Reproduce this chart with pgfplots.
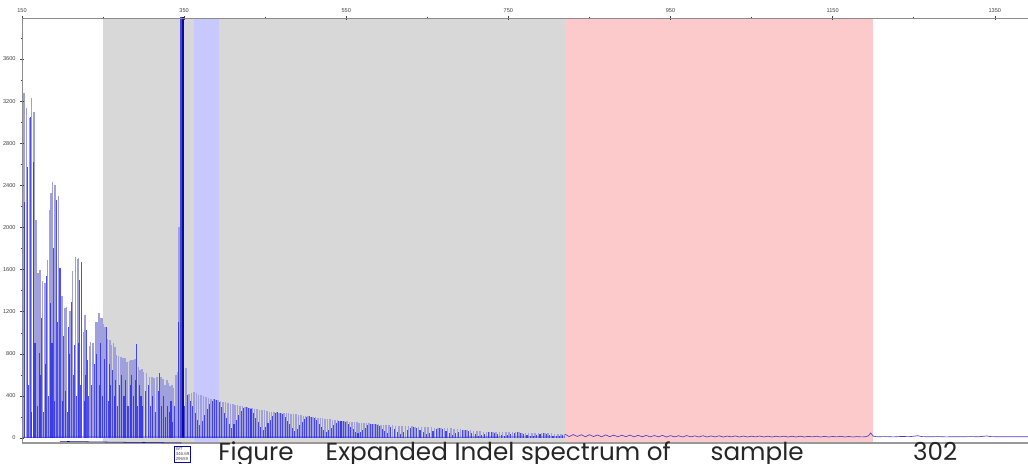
\documentclass[border=0pt]{standalone}
\usepackage{pgfplots}
\pgfplotsset{compat=1.18}
\usepackage{pgfplotstable}
\usepackage{fontspec}
\setmainfont{Liberation Sans}
\newfontfamily\capfont{Poppins}
\definecolor{graybg}{RGB}{216,216,216}
\definecolor{bluebg}{RGB}{200,200,255}
\definecolor{pinkbg}{RGB}{252,202,203}
\definecolor{lav}{RGB}{160,160,220}
\definecolor{trace}{RGB}{35,35,235}
\definecolor{navy}{RGB}{10,10,160}

% light (lavender) peaks
\pgfplotstableread{
x y
152.5 3280
155.8 3135
159.0 3040
162.0 3230
164.8 3097
167.3 2071
170.0 1567
172.2 1596
175.6 1494
178.4 1472
181.7 1691
183.7 2166
185.8 2327
187.9 2435
190.7 2403
194.8 2302
199.4 1352
203.0 1235
205.2 1248
209.3 1210
212.6 1589
215.8 1716
218.3 1700
220.0 1710
225.7 1004
227.8 1168
233.1 877
234.8 909
237.3 905
241.4 1105
243.0 1105
244.7 1185
246.3 1143
248.4 1137
250.4 1080
252.5 1054
255.3 938
258.6 931
260.7 883
262.7 905
264.8 861
266.9 788
268.9 779
271.9 773
274.4 757
277.2 757
279.3 725
282.5 731
284.2 741
286.7 741
289.5 750
293.6 678
295.7 646
297.8 652
299.8 630
303.9 614
307.2 582
310.1 576
313.0 573
316.3 582
321.2 582
323.7 557
326.5 503
328.6 551
330.6 519
332.7 494
334.8 503
336.8 471
340.1 598
341.7 630
343.8 2000
352.5 665
356 415
359 432
362 440
365 425
368 412
371 405
374 398
377 390
380 385
383 372
386 368
389 365
392 358
395 350
398 346
401 340
404 335
407 328
410 322
413 318
416 310
419 305
422 300
425 296
428 293
431 290
434 285
437 278
440 272
443 270
446 265
449 262
452 256
455 252
458 250
461 246
464 243
467 240
470 239
473 238
476 236
479 234
482 232
485 228
488 224
491 220
494 217
497 213
500 210
503 206
506 203
509 200
512 196
515 193
518 190
521 187
524 184
527 180
530 177
533 175
536 171
539 168
542 165
545 163
548 160
551 158
554 155
557 153
560 151
563 149
566 147
569 145
572 143
575 141
578 140
581 138
584 135
587 132
590 130
593 128
596 126
599 124
603 122
607 120
611 118
615 116
619 115
623 113
627 112
631 110
635 109
639 108
643 106
647 105
651 103
655 102
659 100
663 99
667 97
671 95
675 94
679 92
683 90
687 87
691 84
695 80
699 77
703 74
707 71
711 68
715 65
719 62
723 60
727 59
731 58
735 58
739 57
743 56
747 56
751 55
755 55
759 54
763 54
767 52
771 51
775 50
779 49
783 48
787 47
791 46
795 45
799 45
803 44
807 43
811 42
815 41
819 40
}\lightpeaks

% blue peaks
\pgfplotstableread{
x y
150.5 200
153.3 2245
156.5 2577
158.0 500
160.5 3050
161.5 250
164.0 2625
166.0 900
169.0 300
171.4 807
173.0 600
174.3 1140
177.0 250
179.5 700
180.5 1539
182.7 400
184.6 1282
187.0 900
188.6 1805
190.0 350
192.8 2261
194.0 1100
196.9 1615
198.0 600
200.0 350
201.0 972
203.5 450
206.0 250
207.2 1057
208.5 800
210.5 1295
211.5 300
213.5 600
214.6 883
217.0 400
219.2 900
220.7 1501
222.0 500
223.7 1669
226.8 350
228.7 600
229.9 1026
230.6 741
232.0 400
236.0 500
238.9 598
240.0 700
242.2 800
245.5 500
247.4 900
249.5 400
251.5 750
253.7 1057
254.4 600
256.5 350
257.6 700
259.6 500
261.7 650
263.8 400
265.8 550
267.9 300
270.0 500
273.0 600
275.8 400
278.2 550
280.8 300
283.3 500
285.5 600
288.0 400
290.5 550
291.6 890
292.6 300
294.6 500
296.8 400
298.8 300
301.9 450
305.5 500
308.6 300
311.5 400
314.6 250
317.9 450
319.5 621
322.4 300
325.0 400
327.5 200
329.6 300
331.6 250
333.8 350
335.8 150
338.5 300
342.8 1100
345.0 2102
351.0 300
354.5 408
357.5 353
360.5 302
363.5 242
366.5 170
369.5 124
372.5 162
375.5 219
378.5 273
381.5 327
384.5 353
387.5 368
390.5 358
393.5 340
396.5 298
399.5 242
402.5 187
405.5 134
408.5 98
411.5 129
414.5 175
417.5 217
420.5 259
423.5 285
426.5 296
429.5 287
432.5 276
435.5 242
438.5 195
441.5 150
444.5 108
447.5 80
450.5 105
453.5 141
456.5 176
459.5 213
462.5 234
465.5 243
468.5 235
471.5 227
474.5 202
477.5 165
480.5 129
483.5 93
486.5 68
489.5 90
492.5 121
495.5 152
498.5 181
501.5 200
504.5 206
507.5 199
510.5 190
513.5 167
516.5 135
519.5 105
522.5 75
525.5 55
528.5 72
531.5 97
534.5 123
537.5 145
540.5 160
543.5 165
546.5 160
549.5 152
552.5 134
555.5 109
558.5 84
561.5 60
564.5 45
567.5 59
570.5 80
573.5 100
576.5 120
579.5 133
582.5 138
585.5 132
588.5 125
591.5 111
594.5 90
597.5 69
600.5 50
605 109
609 83
613 59
617 40
621 57
625 78
629 100
633 109
637 97
641 75
645 53
649 36
653 51
657 71
661 89
665 98
669 86
673 66
677 46
681 32
685 44
689 60
693 74
697 78
701 68
705 50
709 35
713 23
717 32
721 43
725 53
729 58
733 52
737 40
741 28
745 20
749 28
753 38
757 49
761 54
765 48
769 36
773 25
777 17
781 24
785 33
789 41
793 45
797 40
801 31
805 22
809 15
813 20
817 28
}\bluepeaks

% low trace after 820
\pgfplotstableread{
x y
820 36
825 14
830 33
835 15
840 31
845 13
850 32
855 14
860 29
865 12
870 30
875 13
880 28
885 12
890 27
895 13
900 28
905 11
910 26
915 12
920 25
925 11
930 24
935 12
940 25
945 10
950 23
955 11
960 22
965 10
970 24
975 11
980 21
985 10
990 22
995 10
1000 20
1005 11
1010 21
1015 10
1020 19
1025 11
1030 20
1035 10
1040 19
1045 10
1050 18
1055 11
1060 19
1065 10
1070 18
1075 10
1080 17
1085 11
1090 18
1095 10
1100 17
1105 10
1110 18
1115 10
1120 16
1125 11
1130 17
1135 10
1140 16
1145 10
1150 15
1155 11
1160 16
1165 10
1170 15
1175 10
1180 14
1185 11
1190 12
1194 20
1197 48
1200 18
1205 12
1215 14
1225 11
1235 15
1245 13
1255 22
1260 14
1270 12
1280 14
1290 11
1300 13
1310 12
1320 14
1330 12
1340 20
1345 14
1355 12
1365 13
1375 12
1391 13
}\tailtrace

\begin{document}
\begin{tikzpicture}[x=1pt,y=1pt]
\useasboundingbox (0,0) rectangle (771,348);
\begin{axis}[
  at={(16.5pt,15.75pt)}, anchor=south west,
  width=754.5pt, height=318.75pt, scale only axis,
  xmin=150, xmax=1391, ymin=-47, ymax=3990,
  axis x line*=top, axis y line*=left,
  axis line style={-, draw=black!45, line width=0.6pt},
  xtick={150,350,550,750,950,1150,1350},
  minor xtick={250,450,650,850,1050,1250},
  ytick={0,400,800,1200,1600,2000,2400,2800,3200,3600},
  minor ytick={200,600,1000,1400,1800,2200,2600,3000,3400,3800},
  tick align=center, major tick length=2.6pt, minor tick length=2pt,
  tick style={draw=black!75, line width=0.4pt},
  ticklabel style={font=\fontsize{4.2}{5}\selectfont, text=black!75},
  xticklabel style={yshift=-0.5pt},
  /pgf/number format/assume math mode=true,
  /pgf/number format/1000 sep={},
  scaled ticks=false,
  clip mode=individual,
  axis on top,
]
\addplot[draw=none, fill=graybg] coordinates {(250,-47) (250,3990) (820,3990) (820,-47)} -- cycle;
\addplot[draw=none, fill=bluebg] coordinates {(362.5,-47) (362.5,3990) (393,3990) (393,-47)} -- cycle;
\addplot[draw=none, fill=pinkbg] coordinates {(820,-47) (820,3990) (1200,3990) (1200,-47)} -- cycle;

\addplot[ycomb, lav, line width=1.1pt, no marks] table {\lightpeaks};
\addplot[ycomb, trace, line width=0.8pt, no marks, opacity=0.8] table {\bluepeaks};
\addplot[ycomb, color={rgb,255:red,70;green,70;blue,220}, line width=1.4pt, no marks] coordinates {(346.4,9999)};
\addplot[ycomb, navy, line width=1.5pt, no marks] coordinates {(349.2,29659)};
\addplot[trace, line width=0.6pt, no marks, opacity=0.8] coordinates {(150,8) (250,10) (350,9) (500,9) (650,8) (820,10)};
\addplot[color={rgb,255:red,80;green,60;blue,200}, line width=0.5pt, no marks] table {\tailtrace};

\draw[black!40, line width=1.3pt] (rel axis cs:0,0) -- (rel axis cs:1,0);
\draw[navy, line width=0.4pt] (axis cs:346.69,-47) -- ++(0,-2.5pt);
\node[anchor=north, draw=navy, line width=0.6pt, inner sep=0.8pt, align=left,
      font=\fontsize{3.3}{3.8}\selectfont, text=black!70, fill=white]
  at ([yshift=-2.5pt]axis cs:348,-47) {WT\\346.69\\29659};
\end{axis}
\node[anchor=base west, font=\capfont\fontsize{18.5}{20}\selectfont, inner sep=0, text=black!85]
  at (163.5,2.5) {Figure\hspace{24pt}Expanded Indel spectrum of\hspace{30pt}sample\hspace{82pt}302};
\end{tikzpicture}
\end{document}
